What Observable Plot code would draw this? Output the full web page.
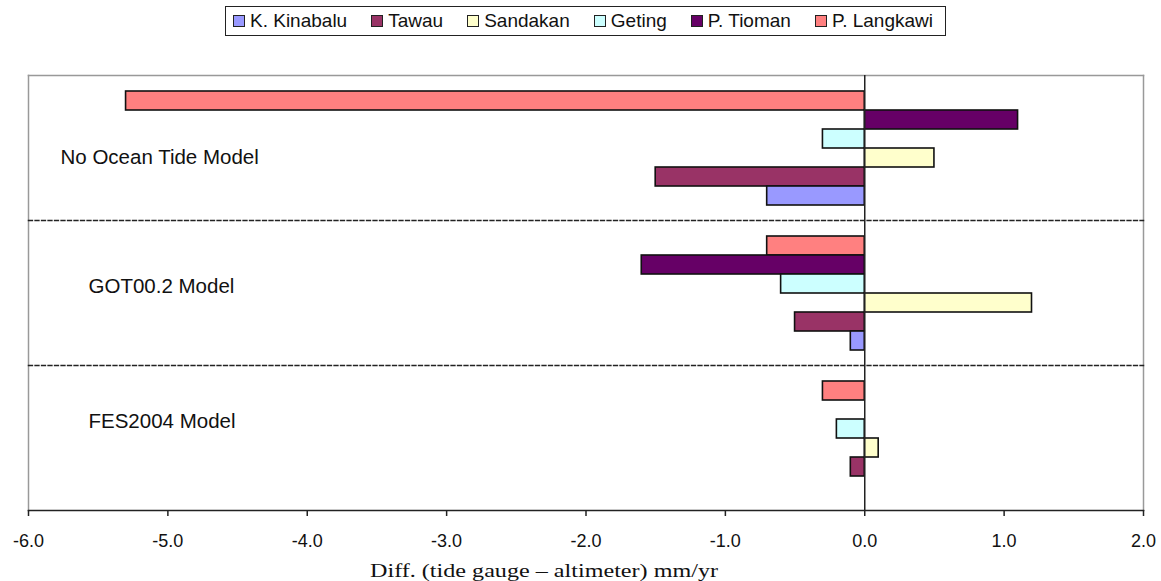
<!DOCTYPE html>
<html>
<head>
<meta charset="utf-8">
<script src="https://cdn.jsdelivr.net/npm/d3@7"></script>
<script src="https://cdn.jsdelivr.net/npm/@observablehq/plot@0.6"></script>
<style>
  body { margin: 0; background: #fff; font-family: "Liberation Sans", Arial, sans-serif; }
  #wrap { position: relative; width: 1161px; height: 581px; overflow: hidden; }
  #legend { position: relative; height: 40px; }
  #legend .box { position: absolute; left: 225px; top: 6px; width: 721px; height: 30px; box-sizing: border-box;
    border: 1.5px solid #222; display: flex; align-items: center; justify-content: space-between;
    padding: 0 12px 0 7px; font-size: 19px; color: #111; }
  #legend .item { display: flex; align-items: center; white-space: nowrap; }
  #legend .sw { width: 10px; height: 10px; border: 1px solid #222; margin-right: 5px; }
  #xlabel { position: absolute; left: 544px; top: 561px; font-family: "Liberation Serif", "Times New Roman", serif;
    font-size: 19px; line-height: 19px; color: #111; white-space: nowrap; transform: translateX(-50%) scaleX(1.27); }
  svg text { fill: #111; }
</style>
</head>
<body>
<div id="wrap">
  <div id="legend"><div class="box"></div></div>
  <div id="chart"></div>
  <div id="xlabel"></div>
</div>
<script>
// ---- data ----
const groups = ["No Ocean Tide Model", "GOT00.2 Model", "FES2004 Model"];
const stations = ["P. Langkawi", "P. Tioman", "Geting", "Sandakan", "Tawau", "K. Kinabalu"];
const legendOrder = ["K. Kinabalu", "Tawau", "Sandakan", "Geting", "P. Tioman", "P. Langkawi"];
const stationColors = ["#FF8080", "#660066", "#CCFFFF", "#FFFFCC", "#993366", "#9999FF"];
// values per station, one per group (No Ocean Tide, GOT00.2, FES2004)
const langkawi = [-5.3, -0.7, -0.3];
const tioman   = [1.1, -1.6, 0.0];
const geting   = [-0.3, -0.6, -0.2];
const sandakan = [0.5, 1.2, 0.1];
const tawau    = [-1.5, -0.5, -0.1];
const kinabalu = [-0.7, -0.1, 0.0];
const xTicks = [-6, -5, -4, -3, -2, -1, 0, 1, 2];
const xLabel = "Diff. (tide gauge \u2013 altimeter) mm/yr";

// ---- table ----
const series = [langkawi, tioman, geting, sandakan, tawau, kinabalu];
const rows = [];
stations.forEach((s, i) => groups.forEach((g, j) => rows.push({station: s, group: g, value: series[i][j]})));

// ---- legend ----
const box = document.querySelector("#legend .box");
legendOrder.forEach(name => {
  const it = document.createElement("div");
  it.className = "item";
  const sw = document.createElement("span");
  sw.className = "sw";
  sw.style.background = stationColors[stations.indexOf(name)];
  const t = document.createElement("span");
  t.textContent = name;
  it.append(sw, t);
  box.append(it);
});
document.getElementById("xlabel").textContent = xLabel;

// ---- chart ----
const chart = Plot.plot({
  width: 1161,
  height: 541,
  marginTop: 34,
  marginBottom: 71,
  marginLeft: 28,
  marginRight: 18,
  style: {fontFamily: "'Liberation Sans', Arial, sans-serif", fontSize: "18px", background: "#fff", color: "#111"},
  x: {domain: [-6, 2], axis: null},
  y: {domain: stations, paddingInner: 0, paddingOuter: 0.8, axis: null},
  fy: {domain: groups, padding: 0, axis: null},
  color: {domain: stations, range: stationColors},
  marks: [
    Plot.frame({anchor: "left", stroke: "#999", strokeWidth: 1.5}),
    Plot.frame({anchor: "right", stroke: "#999", strokeWidth: 1.5}),
    Plot.frame({anchor: "top", stroke: "#999", strokeWidth: 1.5, fy: () => groups[0]}),
    Plot.frame({anchor: "top", stroke: "#222", strokeWidth: 1.3, strokeDasharray: "4,2.5", fy: () => groups[1]}),
    Plot.frame({anchor: "top", stroke: "#222", strokeWidth: 1.3, strokeDasharray: "4,2.5", fy: () => groups[2]}),
    Plot.barX(rows.filter(d => d.value !== 0), {
      x: "value", y: "station", fy: "group", fill: "station",
      stroke: "#111", strokeWidth: 1.6
    }),
    Plot.ruleX([0], {stroke: "#222", strokeWidth: 1.5}),
    Plot.frame({anchor: "bottom", stroke: "#222", strokeWidth: 1.5, fy: () => groups[2]}),
    Plot.axisX(xTicks, {
      tickSize: 6, tickPadding: 18, tickFormat: d => d.toFixed(1),
      stroke: "#222", strokeWidth: 1.5, fontSize: 18, label: null,
      fill: "#111", letterSpacing: 1.5
    }),
    Plot.text([groups[0]], {fy: d => d, text: d => d, frameAnchor: "left", textAnchor: "start", dx: 32, dy: 9, fontSize: 20.5}),
    Plot.text([groups[1]], {fy: d => d, text: d => d, frameAnchor: "left", textAnchor: "start", dx: 60, dy: -7, fontSize: 20.5}),
    Plot.text([groups[2]], {fy: d => d, text: d => d, frameAnchor: "left", textAnchor: "start", dx: 60, dy: -17, fontSize: 20.5})
  ]
});
document.getElementById("chart").append(chart);
</script>
</body>
</html>
